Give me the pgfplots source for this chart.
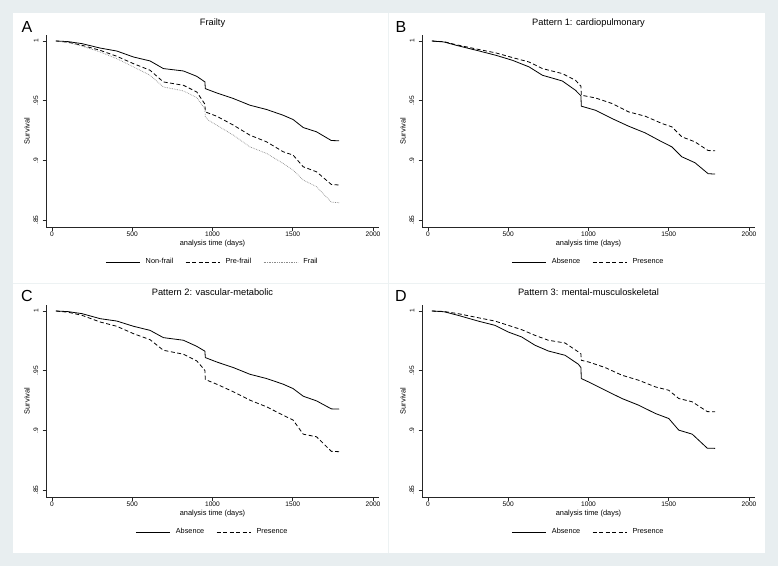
\documentclass[border=0pt]{standalone}
\usepackage{fontspec}
\setmainfont{Liberation Sans}
\usepackage{pgfplots}
\pgfplotsset{compat=1.18}

\definecolor{bgframe}{HTML}{E8EEF0}
\definecolor{divline}{HTML}{EDF2F3}

\pgfplotsset{
  km/.style={
    anchor=south west,
    scale only axis,
    width=333pt, height=192pt,
    xmin=-37, xmax=2037,
    ymin=0.84413, ymax=1.00503,
    axis lines=left,
    axis line style={-, black!85, line width=0.6pt},
    xtick={0,500,1000,1500,2000},
    xticklabels={0,500,1000,1500,2000},
    ytick={0.85,0.9,0.95,1},
    yticklabels={.85,.9,.95,1},
    tick align=outside,
    major tick length=3.5pt,
    tick style={black!85, line width=0.6pt},
    /pgf/number format/assume math mode=true,
    ticklabel style={font=\fontsize{6.6}{7}\selectfont},
    xticklabel style={inner sep=1pt},
    yticklabel style={rotate=90, anchor=south, inner sep=1pt, yshift=3pt},
    xlabel={analysis time (days)},
    ylabel={Survival},
    label style={font=\fontsize{7.4}{8}\selectfont},
    xlabel style={at={(axis description cs:0.5,-0.0885)}, anchor=center},
    ylabel style={at={(axis description cs:-0.057,0.5)}, anchor=center},
    title style={font=\fontsize{9.3}{10}\selectfont, at={(axis description cs:0.5,1)}, anchor=base, yshift=3.5pt},
    legend columns=-1,
    legend style={draw=none, fill=none, at={(axis description cs:0.5,-0.182)}, anchor=center,
      font=\fontsize{7.3}{8}\selectfont,
      /tikz/every odd column/.append style={column sep=3.5pt},
      /tikz/every even column/.append style={column sep=10pt}},
    legend image code/.code={\draw[#1] (0pt,0pt) -- (34pt,0pt);},
    every axis plot/.append style={line join=round},
  },
  solidkm/.style={black, line width=0.8pt},
  dashkm/.style={black, line width=0.8pt, dash pattern=on 4pt off 2.5pt},
  dotkm/.style={black!45, line width=0.7pt, dash pattern=on 0.7pt off 1pt},
}

\begin{document}
\begin{tikzpicture}
\fill[bgframe] (0pt,0pt) rectangle (778pt,-566pt);
\fill[white] (13pt,-13pt) rectangle (765pt,-553pt);
\draw[divline, line width=0.8pt] (388pt,-13pt) -- (388pt,-553pt);
\draw[divline, line width=0.8pt] (13pt,-283pt) -- (765pt,-283pt);

% A: Frailty
\begin{axis}[km, at={(46pt,-227pt)}, title={Frailty}]
\addplot[solidkm] coordinates {
(25,1) (100,0.9995) (187,0.9978) (300,0.9941) (404,0.9916) (508,0.9866) (611,0.9833)
(694,0.9769) (819,0.9749) (902,0.9704) (953,0.9657) (955,0.9601) (1026,0.9565) (1130,0.9518)
(1233,0.9462) (1337,0.9426) (1440,0.9378) (1502,0.9342) (1565,0.9275) (1648,0.9239)
(1740,0.9166) (1789,0.9164)};
\addlegendentry{Non-frail}
\addplot[dashkm] coordinates {
(25,1) (100,0.9990) (187,0.9964) (300,0.9922) (404,0.9872) (508,0.9810) (611,0.9755)
(694,0.9657) (819,0.9629) (902,0.9573) (943,0.9490) (953,0.9470) (955,0.9406) (1026,0.9370)
(1130,0.9295) (1233,0.9211) (1337,0.9155) (1440,0.9072) (1502,0.9044) (1565,0.8946)
(1648,0.8904) (1740,0.8798) (1789,0.8793)};
\addlegendentry{Pre-frail}
\addplot[dotkm] coordinates {
(25,1) (100,0.9988) (187,0.9958) (300,0.9908) (404,0.9852) (508,0.9783) (611,0.9713)
(694,0.9615) (819,0.9582) (902,0.9526) (943,0.9448) (953,0.9430) (955,0.9364) (975,0.9336)
(1026,0.9295) (1130,0.9211) (1233,0.9113) (1337,0.9058) (1440,0.8974) (1502,0.8918)
(1565,0.8835) (1648,0.8779) (1740,0.8650) (1789,0.8645)};
\addlegendentry{Frail}
\end{axis}

% B: Pattern 1
\begin{axis}[km, at={(422pt,-227pt)}, title={Pattern 1: cardiopulmonary}]
\addplot[solidkm] coordinates {
(25,1) (100,0.9992) (176,0.9964) (320,0.9916) (424,0.9880) (527,0.9838) (630,0.9783)
(713,0.9713) (837,0.9665) (919,0.9587) (953,0.9540) (955,0.9454) (1043,0.9420) (1147,0.9350)
(1250,0.9286) (1353,0.9230) (1457,0.9155) (1519,0.9113) (1581,0.9030) (1663,0.8980)
(1745,0.8888) (1789,0.8885)};
\addlegendentry{Absence}
\addplot[dashkm] coordinates {
(25,1) (100,0.9994) (176,0.9969) (320,0.9928) (424,0.9900) (527,0.9861) (630,0.9824)
(713,0.9769) (837,0.9727) (919,0.9671) (953,0.9621) (955,0.9546) (1043,0.9523) (1147,0.9476)
(1250,0.9406) (1353,0.9370) (1457,0.9309) (1519,0.9281) (1581,0.9197) (1663,0.9155)
(1745,0.9082) (1789,0.9080)};
\addlegendentry{Presence}
\end{axis}

% C: Pattern 2
\begin{axis}[km, at={(46pt,-497pt)}, title={Pattern 2: vascular-metabolic}]
\addplot[solidkm] coordinates {
(25,1) (100,0.9995) (187,0.9978) (300,0.9936) (404,0.9916) (508,0.9872) (611,0.9838)
(694,0.9777) (819,0.9755) (902,0.9704) (953,0.9663) (955,0.9610) (1026,0.9573) (1130,0.9526)
(1233,0.9470) (1337,0.9434) (1440,0.9387) (1502,0.9350) (1565,0.9286) (1648,0.9247)
(1740,0.9180) (1789,0.9178)};
\addlegendentry{Absence}
\addplot[dashkm] coordinates {
(25,1) (100,0.9990) (187,0.9964) (300,0.9908) (404,0.9872) (508,0.9810) (611,0.9760)
(694,0.9671) (819,0.9638) (902,0.9582) (943,0.9518) (953,0.9500) (955,0.9426) (1026,0.9387)
(1130,0.9323) (1233,0.9253) (1337,0.9197) (1440,0.9127) (1502,0.9086) (1565,0.8968)
(1648,0.8946) (1740,0.8824) (1789,0.8821)};
\addlegendentry{Presence}
\end{axis}

% D: Pattern 3
\begin{axis}[km, at={(422pt,-497pt)}, title={Pattern 3: mental-musculoskeletal}]
\addplot[solidkm] coordinates {
(25,1) (100,0.9994) (187,0.9964) (312,0.9916) (417,0.9880) (500,0.9824) (583,0.9783)
(667,0.9713) (750,0.9665) (854,0.9629) (937,0.9554) (953,0.9526) (955,0.9434) (1000,0.9406)
(1104,0.9336) (1208,0.9267) (1312,0.9211) (1417,0.9141) (1500,0.9099) (1562,0.9002)
(1646,0.8968) (1740,0.8850) (1789,0.8849)};
\addlegendentry{Absence}
\addplot[dashkm] coordinates {
(25,1) (100,0.9996) (187,0.9978) (312,0.9944) (417,0.9916) (500,0.9880) (583,0.9844)
(667,0.9796) (750,0.9755) (854,0.9732) (937,0.9657) (953,0.9640) (955,0.9587) (1000,0.9573)
(1104,0.9526) (1208,0.9462) (1312,0.9420) (1417,0.9364) (1500,0.9336) (1562,0.9267)
(1646,0.9239) (1740,0.9157) (1789,0.9155)};
\addlegendentry{Presence}
\end{axis}

\foreach \lab/\px/\py in {A/27/32, B/401/32, C/27/301, D/401/301}
  \node[font=\fontsize{16}{16}\selectfont, anchor=base, inner sep=0pt] at (\px pt,-\py pt) {\lab};
\end{tikzpicture}
\end{document}
